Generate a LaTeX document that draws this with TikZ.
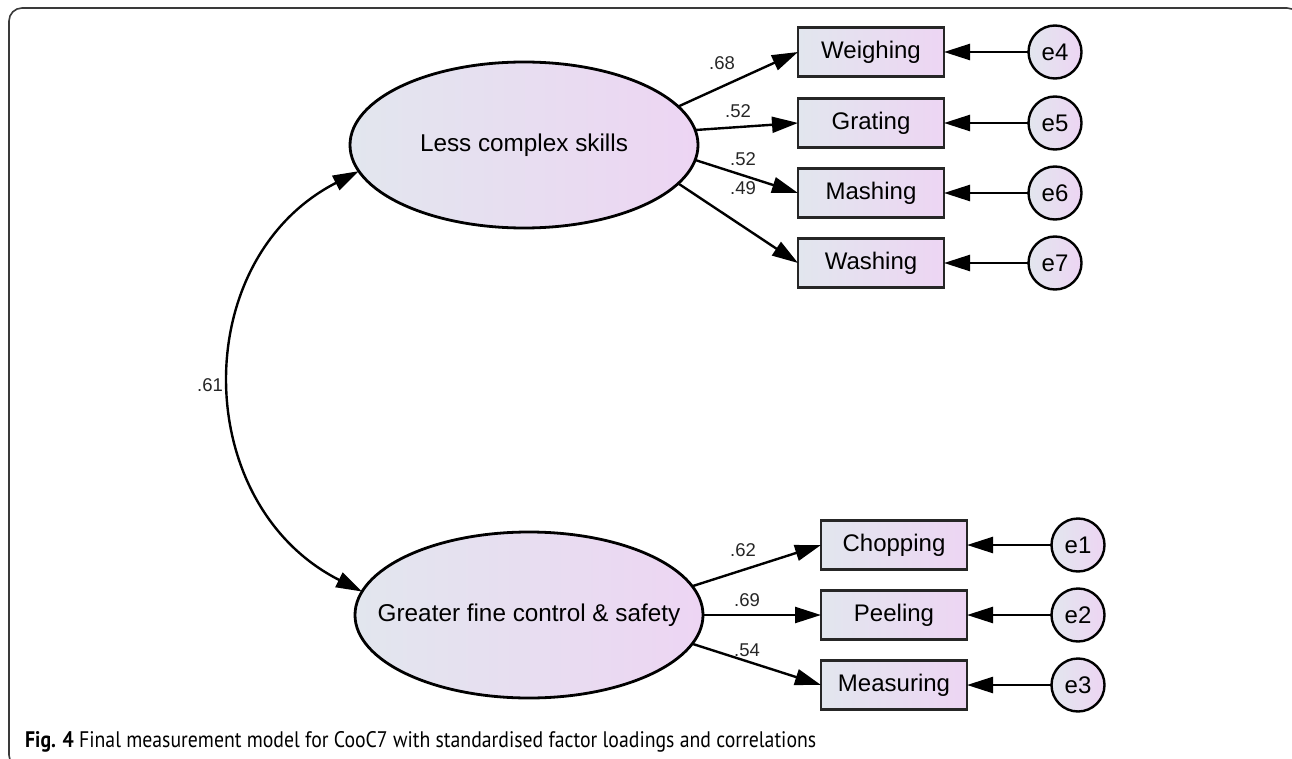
\documentclass[tikz,border=0pt]{standalone}
\usepackage{fontspec}
\setmainfont{Liberation Sans}
\newfontfamily\capfont{PT Sans}
\usetikzlibrary{arrows.meta,shapes.geometric}
\definecolor{gleft}{HTML}{E2E6EE}
\definecolor{gright}{HTML}{EDD5F3}
\definecolor{framec}{HTML}{3A3A3A}
\tikzset{
  latent/.style={ellipse, draw=black, line width=2.8pt, left color=gleft, right color=gright,
    minimum width=348pt, minimum height=166pt, inner sep=0pt, outer sep=0pt},
  ltext/.style={font=\fontsize{24.3}{28}\selectfont, inner sep=0pt},
  observed/.style={rectangle, draw=black!85, line width=2.4pt, left color=gleft, right color=gright,
    minimum width=146pt, minimum height=49pt, inner sep=0pt, outer sep=0pt,
    font=\fontsize{24}{28}\selectfont},
  errc/.style={circle, draw=black, line width=2.4pt, left color=gleft, right color=gright,
    minimum size=53pt, inner sep=0pt, outer sep=0pt,
    font=\fontsize{24}{28}\selectfont},
  path/.style={line width=2.4pt, -{Triangle[length=26pt,width=16pt]}},
  corr/.style={line width=2.4pt, {Triangle[length=26pt,width=16pt]}-{Triangle[length=26pt,width=16pt]}},
  coef/.style={font=\fontsize{18.5}{22}\selectfont, text=black!85, inner sep=0pt},
}
\begin{document}
\begin{tikzpicture}[x=1pt,y=-1pt]
\useasboundingbox (0,0) rectangle (1292,759);
\begin{scope}
\clip (0,0) rectangle (1292,759);
\draw[framec, line width=1.6pt, rounded corners=13pt] (9,8) rectangle (1300,768);
\end{scope}

% latent variables
\node[latent] (L1) at (524,145) {};
\node[ltext] (L1t) at (L1.center) {Less complex skills};
\node[latent] (L2) at (529,615) {};
\node[ltext] (L2t) at (L2.center) {Greater fine control \& safety};

% observed variables (top)
\node[observed] (Wei) at (871,52) {Weighing};
\node[observed] (Gra) at (871,123) {Grating};
\node[observed] (Mas) at (871,193) {Mashing};
\node[observed] (Was) at (871,263) {Washing};
% observed variables (bottom)
\node[observed] (Cho) at (894,545) {Chopping};
\node[observed] (Pee) at (894,615) {Peeling};
\node[observed] (Mea) at (894,685) {Measuring};

% error terms
\node[errc] (e4) at (1055,52) {e4};
\node[errc] (e5) at (1055,123) {e5};
\node[errc] (e6) at (1055,193) {e6};
\node[errc] (e7) at (1055,263) {e7};
\node[errc] (e1) at (1078,545) {e1};
\node[errc] (e2) at (1078,615) {e2};
\node[errc] (e3) at (1078,685) {e3};

% loadings
\draw[path] (L1.14) -- (Wei.west);
\draw[path] (L1.5) -- (Gra.west);
\draw[path] (L1.-5) -- (Mas.west);
\draw[path] (L1.-14) -- (Was.west);
\draw[path] (L2.10) -- (Cho.west);
\draw[path] (L2.0) -- (Pee.west);
\draw[path] (L2.-10) -- (Mea.west);

% errors
\foreach \e/\b in {e4/Wei,e5/Gra,e6/Mas,e7/Was,e1/Cho,e2/Pee,e3/Mea}
  \draw[path] (\e.west) -- (\b.east);

% correlation
\draw[corr] (L1.189.6) .. controls +(-171.5,88) and +(-172,-87) .. (L2.172.6);

% coefficient labels
\node[coef] (c68) at (722,63) {.68};
\node[coef] (c52a) at (738,111) {.52};
\node[coef] (c52b) at (743,159) {.52};
\node[coef] (c49) at (743,188) {.49};
\node[coef] (c62) at (743,550) {.62};
\node[coef] (c69) at (747,600) {.69};
\node[coef] (c54) at (747,650) {.54};
\node[coef] (c61) at (210,385) {.61};

% caption
\node[anchor=base west, inner sep=0pt, font=\capfont\fontsize{22.5}{26}\selectfont] (cap) at (25,747)
  {\resizebox{791pt}{\height}{\textbf{Fig. 4} Final measurement model for CooC7 with standardised factor loadings and correlations}};
\end{tikzpicture}
\end{document}
